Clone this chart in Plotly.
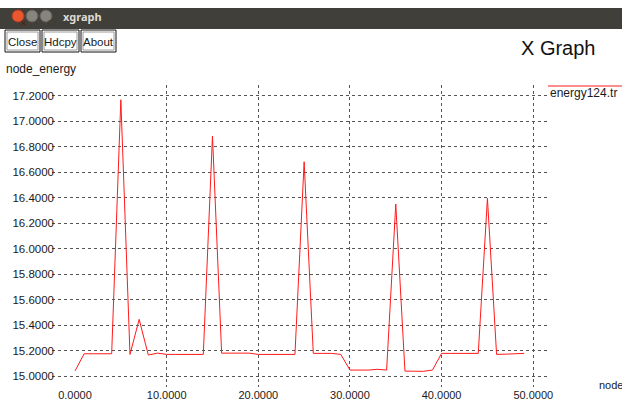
import plotly.graph_objects as go

# ---- data ----
NODE = list(range(50))
ENERGY = [15.04, 15.175, 15.175, 15.175, 15.175, 17.17, 15.17, 15.445, 15.165, 15.18,
          15.17, 15.17, 15.17, 15.17, 15.17, 16.885, 15.18, 15.18, 15.18, 15.18,
          15.17, 15.17, 15.17, 15.17, 15.17, 16.683, 15.178, 15.178, 15.178, 15.17,
          15.047, 15.047, 15.047, 15.053, 15.047, 16.351, 15.039, 15.038, 15.037, 15.047,
          15.178, 15.178, 15.178, 15.178, 15.178, 16.396, 15.17, 15.172, 15.175, 15.178]
SERIES_NAME = "energy124.tr"
X_TICKS = [0, 10, 20, 30, 40, 50]
X_GRID = [10, 20, 30, 40, 50]
Y_TICKS = [15.0, 15.2, 15.4, 15.6, 15.8, 16.0, 16.2, 16.4, 16.6, 16.8, 17.0, 17.2]
Y_LABEL = "node_energy"
X_LABEL = "node"
TITLE = "X Graph"
WINDOW_TITLE = "xgraph"
BUTTONS = ["Close", "Hdcpy", "About"]

# ---- geometry (pixels) ----
W, H = 622, 403
L, R, T, B = 52, 75, 85, 16
PW, PH = W - L - R, H - T - B


def fx(px):
    return (px - L) / PW


def fy(py):
    return (H - B - py) / PH


FONT = "Liberation Sans"
TXT = "#1a1a1a"

fig = go.Figure()
fig.add_trace(go.Scatter(x=NODE, y=ENERGY, mode="lines",
                         line=dict(color="#ff1a1a", width=1),
                         name=SERIES_NAME, showlegend=False))
# invisible trace on overlay axis to carry vertical grid lines
fig.add_trace(go.Scatter(x=[X_GRID[0]], y=[ENERGY[0]], xaxis="x2", mode="markers",
                         marker=dict(opacity=0), showlegend=False, hoverinfo="skip"))

shapes = []
annotations = []

# window title bar
shapes.append(dict(type="rect", xref="paper", yref="paper", x0=fx(0), x1=fx(W),
                   y0=fy(29), y1=fy(8), fillcolor="#403f3a", line=dict(width=0), layer="below"))
shapes.append(dict(type="circle", xref="paper", yref="paper", x0=fx(12), x1=fx(24),
                   y0=fy(22), y1=fy(10), fillcolor="#e9572f", line=dict(color="#b33a1a", width=1)))
for cx in (32, 46):
    shapes.append(dict(type="circle", xref="paper", yref="paper", x0=fx(cx - 6), x1=fx(cx + 6),
                       y0=fy(22), y1=fy(10), fillcolor="#86847c", line=dict(color="#5e5c55", width=1)))
annotations.append(dict(text="×", xref="paper", yref="paper", x=fx(18), y=fy(16),
                        showarrow=False, font=dict(family="DejaVu Sans", size=9, color="#5a1a08")))
annotations.append(dict(text="–", xref="paper", yref="paper", x=fx(32), y=fy(16),
                        showarrow=False, font=dict(family="DejaVu Sans", size=9, color="#3c3b37")))
annotations.append(dict(text="□", xref="paper", yref="paper", x=fx(46), y=fy(16),
                        showarrow=False, font=dict(family="DejaVu Sans", size=8, color="#3c3b37")))
annotations.append(dict(text="<b>" + WINDOW_TITLE + "</b>", xref="paper", yref="paper",
                        x=fx(61), y=fy(17), xanchor="left", yanchor="middle", showarrow=False,
                        font=dict(family="Noto Sans", size=11, color="#dfdbd2")))

# buttons
btn_boxes = [(5, 40), (42, 79), (81, 116)]
for (x0, x1), label in zip(btn_boxes, BUTTONS):
    shapes.append(dict(type="rect", xref="paper", yref="paper", x0=fx(x0), x1=fx(x1),
                       y0=fy(52), y1=fy(30), fillcolor="white", line=dict(color="#111", width=1)))
    shapes.append(dict(type="rect", xref="paper", yref="paper", x0=fx(x0 + 2), x1=fx(x1 - 2),
                       y0=fy(50), y1=fy(32), fillcolor="rgba(0,0,0,0)", line=dict(color="#9a9a9a", width=1)))
    annotations.append(dict(text=label, xref="paper", yref="paper", x=fx((x0 + x1) / 2), y=fy(41.5),
                            xanchor="center", yanchor="middle", showarrow=False,
                            font=dict(family=FONT, size=11.5, color=TXT)))

# chart title
annotations.append(dict(text=TITLE, xref="paper", yref="paper", x=fx(558), y=fy(48),
                        xanchor="center", yanchor="middle", showarrow=False,
                        font=dict(family=FONT, size=20, color="#111")))
# axis labels
annotations.append(dict(text=Y_LABEL, xref="paper", yref="paper", x=fx(4), y=fy(69),
                        xanchor="left", yanchor="middle", showarrow=False,
                        font=dict(family=FONT, size=12, color=TXT)))
annotations.append(dict(text=X_LABEL, xref="paper", yref="paper", x=fx(597), y=fy(385),
                        xanchor="left", yanchor="middle", showarrow=False,
                        font=dict(family=FONT, size=11, color=TXT)))
# legend
shapes.append(dict(type="line", xref="paper", yref="paper", x0=fx(548), x1=fx(622),
                   y0=fy(86), y1=fy(86), line=dict(color="#ff1a1a", width=1)))
annotations.append(dict(text=SERIES_NAME, xref="paper", yref="paper", x=fx(548), y=fy(93),
                        xanchor="left", yanchor="middle", showarrow=False,
                        font=dict(family=FONT, size=12, color=TXT)))

fig.update_layout(
    width=W, height=H,
    margin=dict(l=L, r=R, t=T, b=B, pad=0, autoexpand=False),
    paper_bgcolor="white", plot_bgcolor="white",
    showlegend=False,
    shapes=shapes, annotations=annotations,
    xaxis=dict(range=[-2.51, 51.5], tickvals=X_TICKS, tickformat=".4f", automargin=False,
               showgrid=False, zeroline=False, showline=False, ticks="",
               tickfont=dict(family=FONT, size=11, color=TXT), fixedrange=True),
    xaxis2=dict(overlaying="x", matches="x", side="bottom", tickvals=X_GRID, automargin=False,
                showticklabels=False, showgrid=True, griddash="dot", gridcolor="#555",
                gridwidth=1, zeroline=False, showline=False, ticks=""),
    yaxis=dict(range=[14.914, 17.286], tickvals=Y_TICKS, tickformat=".4f", automargin=False,
               showgrid=True, griddash="dot", gridcolor="#555", gridwidth=1,
               zeroline=False, showline=False, ticks="", ticklabelstandoff=-3,
               tickfont=dict(family=FONT, size=11.5, color=TXT), fixedrange=True),
)

fig.write_html("out.html", config={"displayModeBar": False},
               post_script="document.body.style.margin='0';")
